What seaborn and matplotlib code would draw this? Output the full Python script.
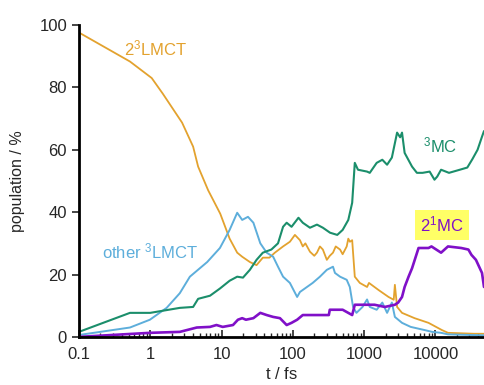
import numpy as np
import pandas as pd
import matplotlib
matplotlib.use("Agg")
import matplotlib.pyplot as plt
import seaborn as sns
from matplotlib.ticker import LogLocator, FixedLocator, NullFormatter

# ---- data ----
lmct2_t = [0.1, 0.52, 1.05, 1.5, 2.8, 4, 4.7, 6.5, 7.6, 9.6, 13, 16.6, 19.5, 25, 31, 38, 47, 56, 73, 91,
           107, 126, 138, 150, 174, 200, 218, 240, 264, 300, 330, 366, 400, 460, 500, 570, 600, 632, 680,
           740, 870, 1100, 1170, 1600, 2200, 2600, 2700, 2900, 3400, 5100, 8000, 12300, 15000, 35000, 48000]
lmct2_v = [97.6, 88.3, 83, 78, 68.7, 61, 54.6, 47, 44, 39.5, 31.5, 27, 25.7, 24, 23, 25.4, 25.4, 27, 29, 30.5,
           32.7, 31, 29, 30, 27.3, 26, 27, 29, 28, 24.7, 26, 27, 29, 28, 26.5, 29, 31.5, 30.5, 31,
           19.3, 17.3, 16, 17.3, 15, 12.8, 11.9, 16.7, 9.6, 7.7, 6, 4.5, 2.2, 1.3, 1, 1]

other3_t = [0.1, 0.52, 0.99, 1.7, 2.6, 3.6, 6.3, 9.5, 13, 16.6, 19.5, 23.5, 28, 35, 43, 53, 62, 73, 91,
            115, 126, 158, 190, 240, 300, 366, 390, 460, 570, 630, 700, 780, 950, 1100, 1200, 1500, 1800,
            2100, 2450, 2700, 3400, 4500, 7000, 9000, 12000, 15000, 48000]
other3_v = [0.6, 3, 5.5, 9.3, 14, 19.3, 24, 28.5, 34.3, 39.8, 37.5, 38.5, 36.6, 30, 27, 25.7, 22.5, 19.3, 17.3,
            12.8, 14.4, 16, 17.3, 19.3, 21.5, 22.5, 20.5, 19.3, 18.3, 16, 9.6, 7.7, 9.6, 12, 9.6, 8.7, 11,
            7.7, 11, 6.4, 4.5, 3.2, 2.2, 1.6, 1.3, 0.8, 0.5]

mc3_t = [0.1, 0.52, 1, 2.6, 4, 4.7, 6.9, 9.5, 13, 16.6, 20, 25, 31, 38, 50, 62, 73, 82, 96, 120, 138, 174,
         218, 264, 333, 420, 500, 600, 680, 740, 820, 1100, 1200, 1500, 1800, 2100, 2450, 2900, 3200, 3400,
         3700, 4700, 5500, 6600, 8300, 9700, 10600, 12000, 15500, 22000, 28000, 33000, 39000, 45000, 48000]
mc3_v = [1.6, 7.7, 7.7, 9.3, 9.6, 12.2, 13.2, 15.5, 18, 19.3, 19, 21.5, 24.7, 27, 28, 30, 35.3, 36.6, 35.3,
         38.2, 36.6, 35, 36, 35, 33.4, 32.7, 34.3, 37.5, 43, 55.8, 53.6, 53, 52.6, 55.8, 56.8, 55.2, 57.5,
         65.5, 64, 65.5, 59, 54.6, 52.6, 52.6, 53, 50.4, 51.4, 53.6, 52.6, 53.6, 54.3, 57, 60, 64.2, 66]

mc1_t = [0.1, 1, 2.6, 4.5, 6.9, 8.5, 10.4, 14.5, 17, 19.5, 22, 28, 35, 43, 53, 66, 82, 96, 115, 138, 240,
         320, 330, 500, 680, 740, 1400, 1950, 2700, 3000, 3400, 3700, 4200, 4700, 5800, 8000, 8800, 12000,
         15000, 23000, 29000, 32000, 37000, 45000, 48000]
mc1_v = [0, 1.3, 1.6, 3, 3.2, 3.8, 3.2, 3.8, 5.5, 6, 5.5, 6, 7.7, 7, 6.4, 6, 3.8, 4.5, 5.5, 7, 7,
         7, 8.7, 8.7, 7, 10.3, 10.3, 9.6, 10.3, 11, 12.8, 16, 19.3, 22, 28.5, 28.5, 29, 27,
         29, 28.5, 28, 26.3, 24.7, 20.5, 16]

x_ticks = [0.1, 1, 10, 100, 1000, 10000]
x_ticklabels = ["0.1", "1", "10", "100", "1000", "10000"]
y_ticks = [0, 20, 40, 60, 80, 100]

c_orange = "#E3A22E"
c_blue = "#5DAEDB"
c_green = "#1B8E6B"
c_purple = "#8010C8"

sns.set_style("ticks")
plt.rcParams["font.family"] = ["Liberation Sans", "DejaVu Sans"]
plt.rcParams["mathtext.fontset"] = "custom"
plt.rcParams["mathtext.rm"] = "Liberation Sans"
plt.rcParams["mathtext.it"] = "Liberation Sans:italic"
plt.rcParams["mathtext.default"] = "regular"

fig = plt.figure(figsize=(4.84, 3.85), dpi=100)
ax = fig.add_axes([0.163, 0.125, 0.837, 0.81])

for t, v, c, lw in [(lmct2_t, lmct2_v, c_orange, 1.3),
                    (other3_t, other3_v, c_blue, 1.4),
                    (mc3_t, mc3_v, c_green, 1.5),
                    (mc1_t, mc1_v, c_purple, 1.9)]:
    sns.lineplot(x=t, y=v, ax=ax, color=c, lw=lw, estimator=None, sort=False)

ax.set_xscale("log")
ax.set_xlim(0.1, 48000)
ax.set_ylim(0, 100)
ax.xaxis.set_major_locator(FixedLocator(x_ticks))
ax.set_xticklabels(x_ticklabels)
ax.xaxis.set_minor_locator(LogLocator(base=10, subs=np.arange(2, 10)))
ax.xaxis.set_minor_formatter(NullFormatter())
ax.set_yticks(y_ticks)

ax.tick_params(axis="x", which="major", direction="in", length=5, width=1.2, labelsize=12, pad=7)
ax.tick_params(axis="x", which="minor", direction="in", length=3, width=1.0)
ax.tick_params(axis="y", which="major", direction="out", length=5, width=1.2, labelsize=12)

for s in ["top", "right"]:
    ax.spines[s].set_visible(False)
for s in ["left", "bottom"]:
    ax.spines[s].set_linewidth(2)
    ax.spines[s].set_color("black")

ax.set_ylabel("population / %", fontsize=11.5, labelpad=10)
ax.set_xlabel(r"$t$ / fs", fontsize=12, labelpad=3)

ax.text(1.2, 92.6, r"2$^3$LMCT", color=c_orange, fontsize=12, ha="center", va="center")
ax.text(1.0, 27.5, r"other $^3$LMCT", color=c_blue, fontsize=12, ha="center", va="center")
ax.text(11500, 61.5, r"$^3$MC", color=c_green, fontsize=12, ha="center", va="center")
ax.text(12300, 36, r"2$^1$MC", color=c_purple, fontsize=12, ha="center", va="center",
        bbox=dict(boxstyle="square,pad=0.3", fc="#FFFF66", ec="none"))

fig.savefig("out.png", dpi=100)
